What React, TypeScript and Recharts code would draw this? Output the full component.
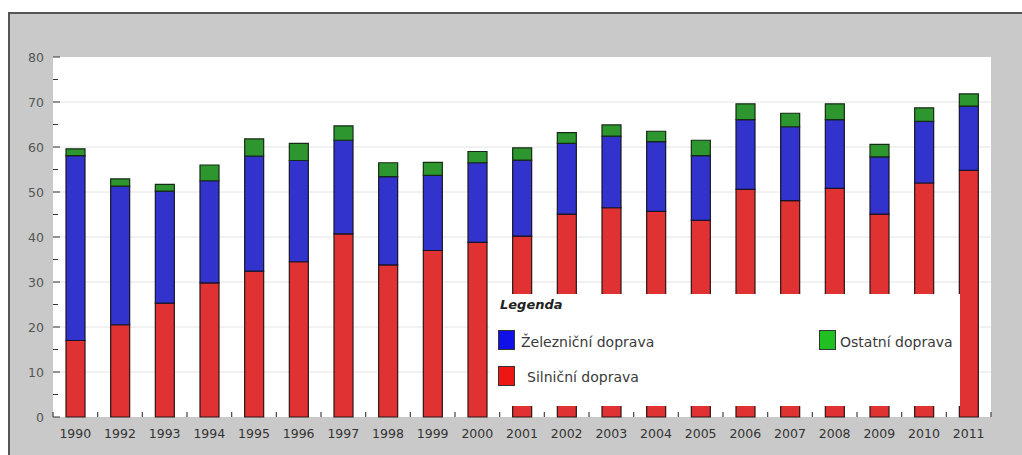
import React from 'react';
import { BarChart, Bar, XAxis, YAxis, CartesianGrid, Legend } from 'recharts';

// Přepravní výkony podle druhu dopravy (1990–2011)
const years = [
  '1990', '1992', '1993', '1994', '1995', '1996', '1997', '1998', '1999', '2000', '2001',
  '2002', '2003', '2004', '2005', '2006', '2007', '2008', '2009', '2010', '2011',
];
const silnicni = [
  17.0, 20.5, 25.3, 29.8, 32.4, 34.5, 40.7, 33.8, 37.0, 38.8, 40.2,
  45.1, 46.5, 45.7, 43.7, 50.6, 48.1, 50.8, 45.1, 52.0, 54.8,
];
const zeleznicni = [
  41.1, 30.8, 24.9, 22.7, 25.6, 22.5, 20.8, 19.6, 16.7, 17.7, 16.9,
  15.7, 15.9, 15.5, 14.4, 15.5, 16.4, 15.3, 12.7, 13.7, 14.3,
];
const ostatni = [
  1.5, 1.6, 1.5, 3.5, 3.8, 3.8, 3.2, 3.1, 2.9, 2.5, 2.7,
  2.4, 2.5, 2.3, 3.4, 3.5, 3.0, 3.5, 2.8, 3.0, 2.7,
];
const yTicks = [0, 5, 10, 15, 20, 25, 30, 35, 40, 45, 50, 55, 60, 65, 70, 75, 80];
const gridValues = [10, 20, 30, 40, 50, 60, 70];

const data = years.map((year, i) => ({
  year,
  silnicni: silnicni[i],
  zeleznicni: zeleznicni[i],
  ostatni: ostatni[i],
}));

const W = 1022;
const H = 455;
const PLOT_LEFT = 53;
const PLOT_RIGHT = 991;
const STEP = (PLOT_RIGHT - PLOT_LEFT) / years.length;
const FONT = '"DejaVu Sans", Verdana, sans-serif';

const YTick = (props: any) => {
  const { x, y, payload } = props;
  const major = payload.value % 10 === 0;
  return (
    <g>
      <line x1={x} x2={x + (major ? 7 : 5)} y1={y} y2={y} stroke="#333" strokeWidth={1} />
      {major && (
        <text x={x - 9} y={y} dy={4.5} textAnchor="end" fontSize={12.5} fill="#555" fontFamily={FONT}>
          {payload.value}
        </text>
      )}
    </g>
  );
};

const XTick = (props: any) => {
  const { x, y, payload, index } = props;
  const last = index === years.length - 1;
  return (
    <g>
      <line x1={x - STEP / 2} x2={x - STEP / 2} y1={y - 5} y2={y} stroke="#444" strokeWidth={1.2} />
      {last && (
        <line x1={x + STEP / 2} x2={x + STEP / 2} y1={y - 5} y2={y} stroke="#444" strokeWidth={1.2} />
      )}
      <text x={x} y={y} dy={21} textAnchor="middle" fontSize={12.5} fill="#333" fontFamily={FONT}>
        {payload.value}
      </text>
    </g>
  );
};

const swatch = (color: string, left: number, top: number) => (
  <div
    style={{
      position: 'absolute',
      left,
      top,
      width: 15,
      height: 18,
      background: color,
      border: '1px solid #333',
    }}
  />
);

const label = (text: string, left: number, top: number) => (
  <div style={{ position: 'absolute', left, top, fontSize: 14, color: '#3a3a3a', whiteSpace: 'nowrap' }}>
    {text}
  </div>
);

const renderLegend = () => (
  <div style={{ position: 'relative', width: 470, height: 112, background: '#fff', fontFamily: FONT }}>
    <div
      style={{
        position: 'absolute',
        left: 10,
        top: 3,
        fontSize: 13,
        fontWeight: 'bold',
        fontStyle: 'italic',
        color: '#222',
      }}
    >
      Legenda
    </div>
    {swatch('#1010e8', 8, 36)}
    {label('Železniční doprava', 31, 40)}
    {swatch('#20c020', 329, 36)}
    {label('Ostatní doprava', 350, 40)}
    {swatch('#ee1515', 8, 72)}
    {label('Silniční doprava', 37, 75)}
  </div>
);

export default function App() {
  return (
    <div style={{ position: 'absolute', left: 0, top: 0, width: W, height: H, overflow: 'hidden', background: '#fff' }}>
      <div
        style={{
          position: 'absolute',
          left: 8,
          top: 12,
          width: W,
          height: H,
          background: '#c9c9c9',
          borderTop: '2px solid #555',
          borderLeft: '2px solid #555',
        }}
      />
      <div style={{ position: 'absolute', left: 0, top: 0 }}>
        <BarChart
          width={W}
          height={H}
          data={data}
          margin={{ top: 57, right: W - PLOT_RIGHT, bottom: 0, left: 0 }}
          barSize={19}
        >
          <CartesianGrid
            vertical={false}
            fill="#fff"
            stroke="#e4e4e4"
            horizontalValues={gridValues}
          />
          <YAxis
            width={PLOT_LEFT}
            domain={[0, 80]}
            ticks={yTicks}
            interval={0}
            axisLine={false}
            tickLine={false}
            tickSize={0}
            tickMargin={0}
            tick={YTick}
          />
          <XAxis
            dataKey="year"
            height={H - 417}
            interval={0}
            axisLine={false}
            tickLine={false}
            tickSize={0}
            tickMargin={0}
            tick={XTick}
          />
          <Legend
            layout="horizontal"
            verticalAlign="middle"
            align="center"
            content={renderLegend}
            wrapperStyle={{ left: 490, top: 294, width: 470, height: 112 }}
          />
          <Bar dataKey="silnicni" name="Silniční doprava" stackId="a" fill="#e03232" stroke="#2a1414" strokeWidth={1.2} isAnimationActive={false} />
          <Bar dataKey="zeleznicni" name="Železniční doprava" stackId="a" fill="#3232cc" stroke="#14142a" strokeWidth={1.2} isAnimationActive={false} />
          <Bar dataKey="ostatni" name="Ostatní doprava" stackId="a" fill="#2e962e" stroke="#142a14" strokeWidth={1.2} isAnimationActive={false} />
        </BarChart>
      </div>
    </div>
  );
}
